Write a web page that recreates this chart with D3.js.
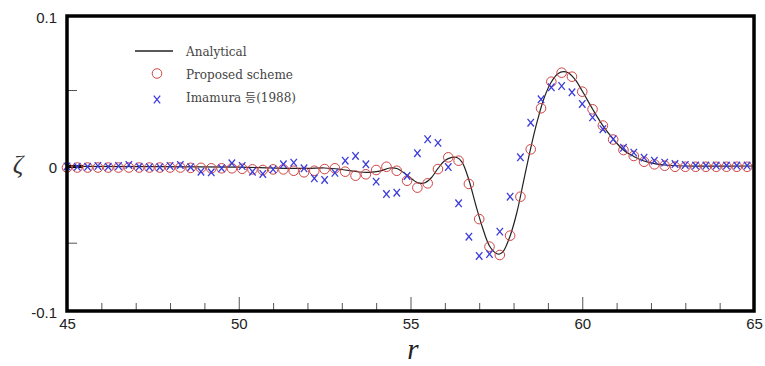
<!DOCTYPE html>
<html>
<head>
<meta charset="utf-8">
<script src="https://cdn.jsdelivr.net/npm/d3@7"></script>
<style>
  body { margin: 0; background: #fff; }
  svg { display: block; }
</style>
</head>
<body>
<svg id="chart" width="765" height="366"></svg>
<script>
// sample positions r (shared by both point series)
const rValues = [
  45.0, 45.3, 45.6, 45.9, 46.2, 46.5, 46.8, 47.1, 47.4, 47.7,
  48.0, 48.3, 48.6, 48.9, 49.2, 49.5, 49.8, 50.1, 50.4, 50.7,
  51.0, 51.3, 51.6, 51.9, 52.2, 52.5, 52.8, 53.1, 53.4, 53.7,
  54.0, 54.3, 54.6, 54.9, 55.2, 55.5, 55.8, 56.1, 56.4, 56.7,
  57.0, 57.3, 57.6, 57.9, 58.2, 58.5, 58.8, 59.1, 59.4, 59.7,
  60.0, 60.3, 60.6, 60.9, 61.2, 61.5, 61.8, 62.1, 62.4, 62.7,
  63.0, 63.3, 63.6, 63.9, 64.2, 64.5, 64.8,
];

// Proposed scheme (circles)
const proposedValues = [
  -0.0010, -0.0010, -0.0010, -0.0010, -0.0010, -0.0010, -0.0010, -0.0010, -0.0010, -0.0010,
  -0.0010, -0.0010, -0.0012, -0.0012, -0.0015, -0.0015, -0.0015, -0.0018, -0.0022, -0.0026,
  -0.0022, -0.0022, -0.0031, -0.0041, -0.0031, -0.0020, -0.0015, -0.0037, -0.0063, -0.0054,
  -0.0026, -0.0005, -0.0031, -0.0096, -0.0141, -0.0113, -0.0020, 0.0057, 0.0035, -0.0117,
  -0.0346, -0.0529, -0.0590, -0.0454, -0.0200, 0.0110, 0.0380, 0.0556, 0.0617, 0.0590,
  0.0489, 0.0373, 0.0266, 0.0174, 0.0105, 0.0066, 0.0028, 0.0011, 0.0002, -0.0005,
  -0.0005, -0.0005, -0.0005, -0.0005, -0.0005, -0.0005, -0.0005,
];

// Imamura et al. (1988) (crosses)
const imamuraValues = [
  -0.0003, -0.0005, -0.0005, 0.0000, -0.0005, 0.0000, 0.0007, -0.0005, -0.0008, -0.0008,
  0.0000, 0.0007, -0.0008, -0.0037, -0.0041, -0.0015, 0.0018, 0.0000, -0.0037, -0.0052,
  -0.0022, 0.0011, 0.0022, -0.0015, -0.0080, -0.0091, -0.0044, 0.0035, 0.0066, 0.0011,
  -0.0102, -0.0183, -0.0174, -0.0065, 0.0084, 0.0176, 0.0152, -0.0007, -0.0243, -0.0461,
  -0.0597, -0.0583, -0.0428, -0.0200, 0.0057, 0.0285, 0.0439, 0.0518, 0.0527, 0.0485,
  0.0408, 0.0320, 0.0242, 0.0176, 0.0120, 0.0088, 0.0055, 0.0035, 0.0022, 0.0013,
  0.0007, 0.0003, 0.0003, 0.0003, 0.0003, 0.0003, 0.0003,
];

// Analytical curve
const analyticalR = [
  45.0, 50.0, 51.0, 52.0, 52.5, 53.0, 53.5, 53.8, 54.1, 54.4,
  54.6, 54.9, 55.2, 55.4, 55.6, 55.8, 56.0, 56.2, 56.35, 56.5,
  56.7, 56.9, 57.1, 57.3, 57.5, 57.6, 57.7, 57.9, 58.1, 58.3,
  58.5, 58.7, 58.9, 59.1, 59.3, 59.45, 59.6, 59.8, 60.0, 60.3,
  60.6, 60.9, 61.2, 61.5, 61.8, 62.1, 62.5, 63.0, 65.0,
];
const analyticalValues = [
  -0.0002, -0.0007, -0.0013, -0.0016, -0.0013, -0.0023, -0.0039, -0.0041, -0.0033, -0.0013,
  -0.0016, -0.0059, -0.0108, -0.0111, -0.0078, -0.0016, 0.0036, 0.0057, 0.0056, 0.0026,
  -0.0091, -0.0254, -0.0404, -0.0524, -0.0579, -0.0583, -0.0564, -0.0456, -0.0300, -0.0091,
  0.0118, 0.0303, 0.0454, 0.0554, 0.0611, 0.0624, 0.0615, 0.0568, 0.0493, 0.0375,
  0.0266, 0.0178, 0.0105, 0.0063, 0.0033, 0.0016, 0.0005, 0.0000, 0.0000,
];

const xMajorTicks = [45, 50, 55, 60, 65];
const xMinorTicks = [46, 47, 48, 49, 51, 52, 53, 54, 56, 57, 58, 59, 61, 62, 63, 64];
const yMajorTicks = [-0.1, 0, 0.1];
const yMinorTicks = [-0.05, 0.05];
const legendLabels = ["Analytical", "Proposed scheme", "Imamura 등(1988)"];

const plotLeft = 67;
const plotRight = 754;
const plotTop = 16;
const plotBottom = 311;

const sansFont = "'Liberation Sans', Arial, sans-serif";
const serifFont = "'DejaVu Serif', 'Noto Sans CJK KR', serif";
const circleColor = "#cf4444";
const crossColor = "#3b3bdc";

const svg = d3.select("#chart");

svg.append("rect").attr("width", 765).attr("height", 366).attr("fill", "#fff");

const x = d3.scaleLinear().domain([45, 65]).range([plotLeft, plotRight]);
// the picture's vertical axis is slightly uneven, so use a polylinear scale
const y = d3
  .scaleLinear()
  .domain([-0.1, -0.05, 0, 0.05, 0.1])
  .range([plotBottom, 242.7, 166, 90, plotTop]);

// x axis
const xAxis = svg
  .append("g")
  .attr("transform", `translate(0,${plotBottom})`)
  .call(
    d3.axisBottom(x).tickValues(xMajorTicks).tickSize(-14).tickPadding(7).tickFormat(d3.format("d"))
  );
const xMinor = svg
  .append("g")
  .attr("transform", `translate(0,${plotBottom})`)
  .call(d3.axisBottom(x).tickValues(xMinorTicks).tickSize(-8).tickFormat(""));

// y axis
const yAxis = svg
  .append("g")
  .attr("transform", `translate(${plotLeft},0)`)
  .call(
    d3.axisLeft(y).tickValues(yMajorTicks).tickSize(-16).tickPadding(10).tickFormat((d) => String(d))
  );
const yMinor = svg
  .append("g")
  .attr("transform", `translate(${plotLeft},0)`)
  .call(d3.axisLeft(y).tickValues(yMinorTicks).tickSize(-10).tickFormat(""));

[xAxis, xMinor, yAxis, yMinor].forEach((g) => {
  g.select(".domain").remove();
  g.selectAll("line").attr("stroke", "#555").attr("stroke-width", 1);
  g.selectAll("text")
    .attr("font-family", sansFont)
    .attr("font-size", 15)
    .attr("fill", "#222");
});

yAxis.selectAll("text").attr("dy", "0.42em");

yAxis
  .selectAll(".tick")
  .filter((d) => d === 0)
  .select("line")
  .attr("stroke", "#000")
  .attr("stroke-width", 3);

// analytical curve
const line = d3
  .line()
  .curve(d3.curveCatmullRom.alpha(0.5))
  .x((d) => x(d[0]))
  .y((d) => y(d[1]));

svg
  .append("path")
  .datum(d3.zip(analyticalR, analyticalValues))
  .attr("fill", "none")
  .attr("stroke", "#222")
  .attr("stroke-width", 1.2)
  .attr("d", line);

// proposed scheme
svg
  .append("g")
  .selectAll("circle")
  .data(d3.zip(rValues, proposedValues))
  .join("circle")
  .attr("cx", (d) => x(d[0]))
  .attr("cy", (d) => y(d[1]))
  .attr("r", 4.8)
  .attr("fill", "none")
  .attr("stroke", circleColor)
  .attr("stroke-width", 1);

// Imamura
const crossPath = "M-3.2,-3.8L3.2,3.8M-3.2,3.8L3.2,-3.8";
svg
  .append("g")
  .selectAll("path")
  .data(d3.zip(rValues, imamuraValues))
  .join("path")
  .attr("transform", (d) => `translate(${x(d[0])},${y(d[1])})`)
  .attr("d", crossPath)
  .attr("fill", "none")
  .attr("stroke", crossColor)
  .attr("stroke-width", 1.3);

// frame
svg
  .append("rect")
  .attr("x", plotLeft)
  .attr("y", plotTop)
  .attr("width", plotRight - plotLeft)
  .attr("height", plotBottom - plotTop)
  .attr("fill", "none")
  .attr("stroke", "#000")
  .attr("stroke-width", 3.5);

// legend
const legend = svg.append("g");
legend
  .append("line")
  .attr("x1", 135)
  .attr("x2", 173)
  .attr("y1", 51)
  .attr("y2", 51)
  .attr("stroke", "#222")
  .attr("stroke-width", 1.5);
legend
  .append("circle")
  .attr("cx", 157)
  .attr("cy", 73.5)
  .attr("r", 4.8)
  .attr("fill", "none")
  .attr("stroke", circleColor)
  .attr("stroke-width", 1);
legend
  .append("path")
  .attr("transform", "translate(157,99.5)")
  .attr("d", crossPath)
  .attr("fill", "none")
  .attr("stroke", crossColor)
  .attr("stroke-width", 1.3);
legend
  .selectAll("text")
  .data(legendLabels)
  .join("text")
  .attr("x", 186)
  .attr("y", (d, i) => 56 + i * 22.8)
  .attr("font-family", serifFont)
  .attr("font-size", 12)
  .attr("fill", "#444")
  .text((d) => d);

// axis titles
svg
  .append("text")
  .attr("x", 413)
  .attr("y", 359)
  .attr("text-anchor", "middle")
  .attr("font-family", "'Liberation Serif', 'Times New Roman', serif")
  .attr("font-style", "italic")
  .attr("font-size", 29)
  .attr("fill", "#222")
  .text("r");

svg
  .append("text")
  .attr("x", 18)
  .attr("y", 173)
  .attr("text-anchor", "middle")
  .attr("font-family", "'Liberation Serif', 'Times New Roman', serif")
  .attr("font-style", "italic")
  .attr("font-size", 26)
  .attr("fill", "#333")
  .text("ζ");
</script>
</body>
</html>
